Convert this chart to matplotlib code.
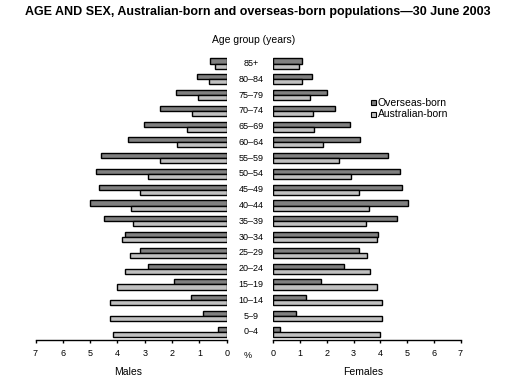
import matplotlib
matplotlib.use("Agg")
import matplotlib.pyplot as plt
import matplotlib.transforms as mtransforms
import numpy as np

plt.rcParams['font.family'] = ['Liberation Sans', 'DejaVu Sans']

# Age groups from youngest to oldest
ages = ["0–4", "5–9", "10–14", "15–19", "20–24", "25–29", "30–34", "35–39",
        "40–44", "45–49", "50–54", "55–59", "60–64", "65–69", "70–74",
        "75–79", "80–84", "85+"]

# Percentages
male_overseas = [0.31, 0.86, 1.29, 1.92, 2.87, 3.16, 3.71, 4.48, 4.99,
                 4.66, 4.77, 4.62, 3.60, 3.01, 2.43, 1.84, 1.07, 0.60]
male_aus = [4.18, 4.26, 4.26, 4.00, 3.71, 3.53, 3.82, 3.42, 3.49,
            3.16, 2.87, 2.43, 1.81, 1.44, 1.26, 1.04, 0.64, 0.42]
female_overseas = [0.25, 0.84, 1.21, 1.77, 2.66, 3.22, 3.93, 4.64, 5.05,
                   4.83, 4.75, 4.30, 3.26, 2.85, 2.29, 1.99, 1.43, 1.06]
female_aus = [3.98, 4.05, 4.08, 3.86, 3.60, 3.49, 3.86, 3.45, 3.56,
              3.19, 2.89, 2.44, 1.84, 1.54, 1.47, 1.39, 1.06, 0.97]

W, H = 522, 388
fig = plt.figure(figsize=(W / 100, H / 100), dpi=100)

def px_axes(x0, x1, ytop, ybot):
    return fig.add_axes([x0 / W, 1 - ybot / H, (x1 - x0) / W, (ybot - ytop) / H])

axL = px_axes(35.5, 226.7, 52, 340)
axR = px_axes(273.3, 460.5, 52, 340)

y = np.arange(len(ages))
bh = 0.32
dark = "#808080"
light = "#c0c0c0"

for ax, os_vals, au_vals in [(axL, male_overseas, male_aus),
                             (axR, female_overseas, female_aus)]:
    ax.barh(y + bh / 2, os_vals, height=bh, color=dark, edgecolor="black", linewidth=1.0)
    ax.barh(y - bh / 2, au_vals, height=bh, color=light, edgecolor="black", linewidth=1.0)
    ax.set_ylim(-0.52, 17.73)
    ax.set_xticks(range(8))
    ax.set_yticks([])
    for s in ["top", "left", "right"]:
        ax.spines[s].set_visible(False)
    ax.spines["bottom"].set_linewidth(1.0)
    ax.tick_params(axis="x", direction="out", length=2.5, width=1.0, labelsize=6.5, pad=4)

axL.set_xlim(7, 0)
axR.set_xlim(0, 7)

# age labels between the two panels
trans = mtransforms.blended_transform_factory(fig.transFigure, axL.transData)
for i, a in enumerate(ages):
    fig.text(251 / W, i, a, transform=trans, ha="center", va="center", fontsize=6.5)

fig.text(258 / W, 1 - 12 / H, "AGE AND SEX, Australian-born and overseas-born populations—30 June 2003",
         ha="center", va="center", fontsize=9, fontweight="bold")
fig.text(254 / W, 1 - 40 / H, "Age group (years)", ha="center", va="center", fontsize=7.5)
fig.text(247.5 / W, 1 - 356 / H, "%", ha="center", va="center", fontsize=6.5)
fig.text(128 / W, 1 - 372 / H, "Males", ha="center", va="center", fontsize=7.5)
fig.text(363 / W, 1 - 372 / H, "Females", ha="center", va="center", fontsize=7.5)

# legend
for yy, col, lab in [(103, dark, "Overseas-born"), (114, light, "Australian-born")]:
    fig.patches.append(plt.Rectangle((371 / W, 1 - (yy + 2.5) / H), 5 / W, 5 / H,
                                     transform=fig.transFigure, facecolor=col,
                                     edgecolor="black", linewidth=0.8))
    fig.text(378 / W, 1 - yy / H, lab, ha="left", va="center", fontsize=7.5)

fig.savefig("out.png", dpi=100)
